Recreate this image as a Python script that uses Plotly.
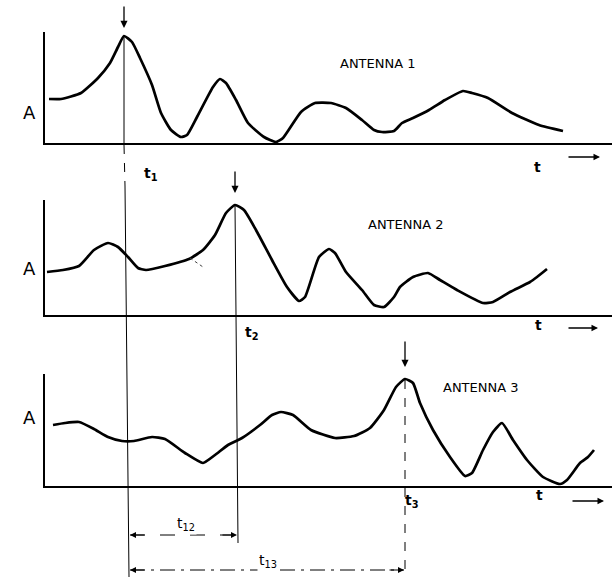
import plotly.graph_objects as go

W, H = 615, 583

# ---- data (time in arbitrary units from the axis origin, amplitude in arbitrary units) ----
t_ant1 = [4, 16, 36, 53, 65, 73, 79, 87, 95, 107, 116, 126, 136, 142, 152, 168, 175, 181, 191, 203,
          219, 231, 238, 256, 270, 286, 301, 317, 329, 337, 349, 357, 368, 384, 400, 418, 427, 443,
          467, 494, 518]
a_ant1 = [44, 44, 50, 65, 80, 96, 107, 101, 85, 58, 30, 13, 6, 8, 26, 56, 64, 60, 43, 20,
          6, 1, 5, 31, 40, 40, 35, 23, 13, 11, 12, 20, 25, 33, 43, 52, 50, 45,
          30, 18, 12]

t_ant2 = [2, 18, 34, 49, 63, 73, 83, 93, 101, 120, 144, 158, 170, 181, 190, 199, 211, 227, 242, 254,
          260, 274, 284, 290, 301, 317, 329, 339, 349, 355, 368, 383, 395, 412, 438, 448, 465, 485,
          492, 502]
a_ant2 = [43, 45, 49, 65, 72, 68, 58, 47, 45, 49, 56, 65, 80, 102, 110, 105, 85, 55, 28, 14,
          18, 58, 66, 62, 43, 25, 10, 8, 18, 28, 38, 42, 35, 25, 12, 13, 23, 33,
          38, 46]

t_ant3 = [8, 20, 34, 49, 63, 77, 89, 107, 120, 140, 158, 170, 183, 197, 215, 227, 236, 248, 266, 290,
          309, 325, 339, 351, 360, 368, 375, 388, 405, 420, 427, 438, 448, 457, 468, 482, 498, 515,
          522, 535, 543, 549]
a_ant3 = [61, 63, 64, 57, 49, 45, 45, 49, 47, 33, 23, 31, 41, 48, 61, 71, 74, 71, 56, 48,
          50, 58, 76, 99, 107, 103, 83, 56, 29, 10, 13, 36, 54, 63, 46, 26, 9, 2,
          6, 23, 29, 36]

stray_t = [145, 158]
stray_a = [57, 48]

panel_tops = [111, 115, 112]
axis_len = 567

labels_antenna = ["ANTENNA 1", "ANTENNA 2", "ANTENNA 3"]
labels_arrival = ["t<sub>1</sub>", "t<sub>2</sub>", "t<sub>3</sub>"]
label_t12 = "t<sub>12</sub>"
label_t13 = "t<sub>13</sub>"
label_amp = "A"
label_time = "t"

# ---- layout geometry (pixels in the 615x583 page) ----
X0 = 45            # left end of the time axes
BASES = [143, 315, 486]


def X(px):
    return px / W


def Y(py):
    return 1 - py / H


def tx(t):
    """time value -> paper x (time axes have 1 unit per pixel)"""
    return X(X0 + t)


FONT = "DejaVu Sans"
fig = go.Figure()

curves = [(t_ant1, a_ant1), (t_ant2, a_ant2), (t_ant3, a_ant3)]
axis_ids = [("x", "y"), ("x2", "y2"), ("x3", "y3")]
for (tt, aa), (xa, ya) in zip(curves, axis_ids):
    fig.add_trace(go.Scatter(x=tt, y=aa, mode="lines", xaxis=xa, yaxis=ya,
                             line=dict(color="black", width=2.7, shape="spline", smoothing=0.5),
                             hoverinfo="skip", showlegend=False))

fig.add_trace(go.Scatter(x=stray_t, y=stray_a, mode="lines", xaxis="x2", yaxis="y2",
                         line=dict(color="#444", width=1, dash="dot"),
                         hoverinfo="skip", showlegend=False))

for i, (base, top) in enumerate(zip(BASES, panel_tops)):
    sfx = "" if i == 0 else str(i + 1)
    ax_x = dict(domain=[X(X0), X(X0 + axis_len)], range=[0, axis_len], showline=True, linecolor="black",
                linewidth=2, showgrid=False, zeroline=False, showticklabels=False, ticks="",
                anchor="y" + sfx, fixedrange=True)
    ax_y = dict(domain=[Y(base), Y(base - top)], range=[0, top], showline=True, linecolor="black",
                linewidth=1.6, showgrid=False, zeroline=False, showticklabels=False, ticks="",
                anchor="x" + sfx, fixedrange=True)
    fig.update_layout(**{"xaxis" + sfx: ax_x, "yaxis" + sfx: ax_y})


def peak(tt, aa):
    i = max(range(len(aa)), key=lambda k: aa[k])
    return tt[i], aa[i]


p1 = peak(t_ant1, a_ant1)
p2 = peak(t_ant2, a_ant2)
p3 = peak(t_ant3, a_ant3)

shapes = []
thin = dict(color="black", width=1)
# t1 line
shapes.append(dict(type="line", xref="x", yref="y", x0=p1[0], x1=p1[0], y0=p1[1], y1=0, line=thin))
shapes.append(dict(type="line", xref="x", yref="paper", x0=p1[0], x1=p1[0] + 1, y0=Y(145), y1=Y(186),
                   line=dict(color="black", width=1, dash="dash")))
shapes.append(dict(type="line", xref="x", yref="paper", x0=p1[0] + 1, x1=p1[0] + 5, y0=Y(186), y1=Y(577),
                   line=thin))
# t2 line
shapes.append(dict(type="line", xref="x2", yref="y2", x0=p2[0], x1=p2[0] + 1, y0=p2[1], y1=0, line=thin))
shapes.append(dict(type="line", xref="x2", yref="paper", x0=p2[0] + 1, x1=p2[0] + 3, y0=Y(315), y1=Y(543),
                   line=thin))
# t3 line
shapes.append(dict(type="line", xref="x3", yref="paper", x0=p3[0], x1=p3[0], y0=Y(380), y1=Y(572),
                   line=dict(color="black", width=1, dash="dash")))
# t12 and t13 measurement lines
shapes.append(dict(type="line", xref="x3", yref="paper", x0=p1[0] + 6, x1=p2[0] + 2, y0=Y(535), y1=Y(535),
                   line=dict(color="black", width=1, dash="longdash")))
shapes.append(dict(type="line", xref="x3", yref="paper", x0=p1[0] + 6, x1=p3[0] - 1, y0=Y(570), y1=Y(570),
                   line=dict(color="black", width=1, dash="longdashdot")))
fig.update_layout(shapes=shapes)

ann = []
# arrows pointing down at the peaks
for pt, head_px, tail_px in [(p1[0], 28, 5), (p2[0], 193, 170), (p3[0], 367, 340)]:
    ann.append(dict(x=tx(pt), y=Y(head_px), xref="paper", yref="paper", text="", showarrow=True,
                    ax=0, ay=-(head_px - tail_px), arrowhead=2, arrowsize=1.1, arrowwidth=1.3,
                    arrowcolor="black"))

# measurement arrowheads (outward)
for t_head, dx, ypx in [(p1[0] + 6, 16, 535), (p2[0] + 2, -16, 535),
                        (p1[0] + 6, 16, 570), (p3[0] - 1, -16, 570)]:
    ann.append(dict(x=tx(t_head), y=Y(ypx), xref="paper", yref="paper", text="", showarrow=True,
                    ax=dx, ay=0, arrowhead=2, arrowsize=1, arrowwidth=1.2, arrowcolor="black"))

# text labels
for lab, xc, yc in zip(labels_antenna, [378, 406, 521], [54, 224, 397]):
    ann.append(dict(x=X(xc), y=Y(yc), xref="paper", yref="paper", text=lab, showarrow=False,
                    font=dict(family=FONT, size=13, color="black")))
for lab, xc, yc in zip(labels_arrival, [142, 252, 421], [163, 333, 512]):
    ann.append(dict(x=X(xc), y=Y(yc), xref="paper", yref="paper", text=lab, showarrow=False,
                    font=dict(family=FONT, size=14, color="black", weight="bold")))
for yc in [100, 268, 430]:
    ann.append(dict(x=X(21), y=Y(yc), xref="paper", yref="paper", text=label_amp, showarrow=False,
                    font=dict(family=FONT, size=18, color="black")))
for xt, yt, xa0, xa1, ya in [(543, 157, 567, 600, 157), (544, 325, 567, 598, 328), (545, 505, 571, 604, 501)]:
    ann.append(dict(x=X(xt), y=Y(yt), xref="paper", yref="paper", text=label_time, showarrow=False,
                    font=dict(family=FONT, size=14, color="black", weight="bold")))
    ann.append(dict(x=X(xa1), y=Y(ya), xref="paper", yref="paper", text="", showarrow=True,
                    ax=-(xa1 - xa0), ay=0, arrowhead=2, arrowsize=1, arrowwidth=1.3, arrowcolor="black"))
ann.append(dict(x=X(175), y=Y(535), xref="paper", yref="paper", text=label_t12, showarrow=False,
                bgcolor="white", font=dict(family=FONT, size=14, color="black")))
ann.append(dict(x=X(268), y=Y(572), xref="paper", yref="paper", text=label_t13, showarrow=False,
                bgcolor="white", font=dict(family=FONT, size=14, color="black")))
fig.update_layout(annotations=ann)

fig.update_layout(width=W, height=H, margin=dict(l=0, r=0, t=0, b=0),
                  paper_bgcolor="white", plot_bgcolor="white", showlegend=False)

fig.write_html("out.html", config={"displayModeBar": False})
